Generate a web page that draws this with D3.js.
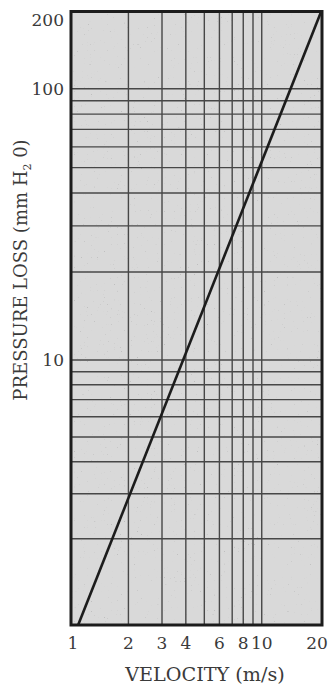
<!DOCTYPE html>
<html>
<head>
<meta charset="utf-8">
<script src="https://cdn.jsdelivr.net/npm/d3@7/dist/d3.min.js"></script>
<style>
  html, body { margin: 0; padding: 0; background: #fff; }
  svg { display: block; }
  text { font-family: "DejaVu Serif", "Liberation Serif", serif; fill: #3a3a3a; }
</style>
</head>
<body>
<svg id="chart" width="328" height="686"></svg>
<script>
// ---- data ----
const velocityDomain = [1, 20.7];                 // m/s, x extent of the frame
const pressureDomain = [0.92, 10, 20, 197];       // mm H2O, y extent (scan is slightly irregular)
const velocityGrid = [2, 3, 4, 5, 6, 7, 8, 9, 10];
const pressureGrid = [2, 3, 4, 5, 6, 7, 8, 9, 10, 20, 30, 40, 50, 60, 70, 80, 90, 100];
const velocityTicks = [1, 2, 3, 4, 6, 8, 10, 20];
const pressureTicks = [200, 100, 10];
const lineVelocity = [1.09, 20.5];
const linePressure = [0.92, 197];

const svg = d3.select("#chart");

const x = d3.scaleLog().domain(velocityDomain).range([71, 322]);
const y = d3.scaleLog().domain(pressureDomain).range([625, 360, 272, 11.5]);

const x0 = x(velocityDomain[0]), x1 = x(velocityDomain[1]);
const y0 = y(pressureDomain[0]), y1 = y(pressureDomain[pressureDomain.length - 1]);

// speckle texture filter (scan look)
const defs = svg.append("defs");
const f = defs.append("filter").attr("id", "speck")
  .attr("x", 0).attr("y", 0).attr("width", 1).attr("height", 1);
f.append("feTurbulence").attr("type", "fractalNoise")
  .attr("baseFrequency", 0.7).attr("numOctaves", 1).attr("seed", 3);
f.append("feColorMatrix").attr("type", "matrix")
  .attr("values", "0 0 0 0 0.35  0 0 0 0 0.35  0 0 0 0 0.35  9 0 0 0 -6.4");

// plot background
svg.append("rect")
  .attr("x", x0).attr("y", y1)
  .attr("width", x1 - x0).attr("height", y0 - y1)
  .attr("fill", "#d9d9d9");
svg.append("rect")
  .attr("x", x0).attr("y", y1)
  .attr("width", x1 - x0).attr("height", y0 - y1)
  .attr("filter", "url(#speck)")
  .attr("opacity", 0.45);

// grid
svg.append("g").selectAll("line").data(pressureGrid).join("line")
  .attr("x1", x0).attr("x2", x1)
  .attr("y1", d => y(d)).attr("y2", d => y(d))
  .attr("stroke", "#474747").attr("stroke-width", 1.4);

svg.append("g").selectAll("line").data(velocityGrid).join("line")
  .attr("y1", y1).attr("y2", y0)
  .attr("x1", d => x(d)).attr("x2", d => x(d))
  .attr("stroke", "#474747").attr("stroke-width", 1.4);

// frame
svg.append("rect")
  .attr("x", x0).attr("y", y1)
  .attr("width", x1 - x0).attr("height", y0 - y1)
  .attr("fill", "none").attr("stroke", "#1c1c1c").attr("stroke-width", 3);

// data line
const pts = lineVelocity.map((v, i) => [v, linePressure[i]]);
svg.append("path")
  .datum(pts)
  .attr("d", d3.line().x(d => x(d[0])).y(d => y(d[1])))
  .attr("fill", "none").attr("stroke", "#1c1c1c").attr("stroke-width", 2.6);

// x tick labels
svg.append("g").selectAll("text").data(velocityTicks).join("text")
  .attr("x", d => d === 1 ? x(d) + 2 : Math.min(x(d), 317))
  .attr("y", 649)
  .attr("text-anchor", "middle")
  .attr("font-size", 17)
  .text(d => d);

// y tick labels
svg.append("g").selectAll("text").data(pressureTicks).join("text")
  .attr("x", 64)
  .attr("y", d => Math.max(y(d), 20))
  .attr("dy", "0.36em")
  .attr("text-anchor", "end")
  .attr("font-size", 17)
  .text(d => d);

// axis titles
svg.append("text")
  .attr("x", 205).attr("y", 681)
  .attr("text-anchor", "middle")
  .attr("font-size", 19.2)
  .text("VELOCITY (m/s)");

const yt = svg.append("text")
  .attr("transform", "translate(27,270) rotate(-90)")
  .attr("text-anchor", "middle")
  .attr("font-size", 18);
yt.append("tspan").text("PRESSURE LOSS (mm H");
yt.append("tspan").attr("font-size", 11).attr("dy", 4).text("2");
yt.append("tspan").attr("dy", -4).text(" 0)");
</script>
</body>
</html>
